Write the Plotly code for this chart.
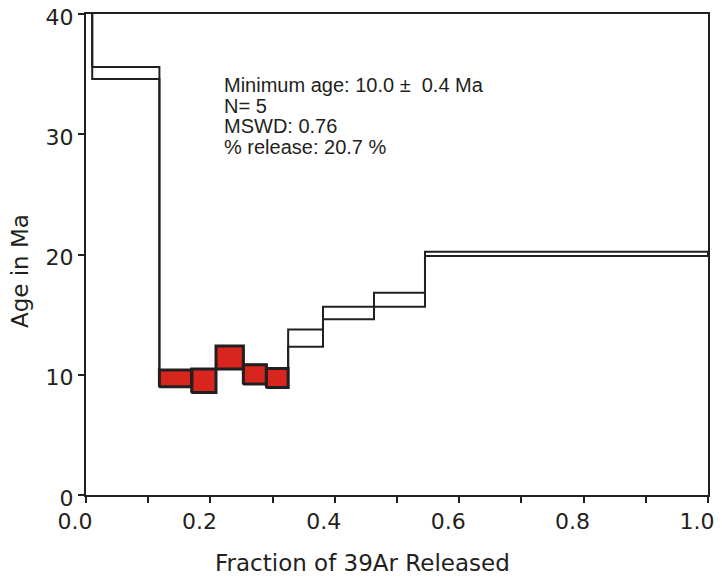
import numpy as np
import plotly.graph_objects as go

# ---- data ----
frac_bounds = [0.0, 0.010, 0.118, 0.170, 0.209, 0.253, 0.290, 0.325, 0.381, 0.463, 0.545, 1.0]
ages = [48.0, 35.1, 9.70, 9.50, 11.43, 10.03, 9.73, 13.05, 15.13, 16.23, 20.05]
errors = [2.0, 0.50, 0.70, 0.97, 0.96, 0.80, 0.80, 0.72, 0.52, 0.58, 0.17]
plateau = [False, False, True, True, True, True, True, False, False, False, False]

x_ticks = [0.0, 0.2, 0.4, 0.6, 0.8, 1.0]
x_tick_text = ["0.0", "0.2", "0.4", "0.6", "0.8", "1.0"]
y_ticks = [0, 10, 20, 30, 40]
y_tick_text = ["0", "10", "20", "30", "40"]

info_lines = ["Minimum age: 10.0 \u00b1  0.4 Ma", "N= 5", "MSWD: 0.76", "% release: 20.7 %"]

INK = "#231f20"
RED = "#d8261f"

b = np.array(frac_bounds)
a = np.array(ages)
e = np.array(errors)
hi = a + e
lo = a - e

# step envelopes
xs = np.repeat(b, 2)[1:-1]
up_y = np.repeat(hi, 2)
lo_y = np.repeat(lo, 2)

fig = go.Figure()
fig.add_trace(go.Scatter(x=list(xs) + [b[-1]], y=list(up_y) + [lo[-1]], mode="lines",
                         line=dict(color=INK, width=2), hoverinfo="skip", showlegend=False))
fig.add_trace(go.Scatter(x=xs, y=lo_y, mode="lines",
                         line=dict(color=INK, width=2), hoverinfo="skip", showlegend=False))

# plateau boxes
px, py = [], []
for i, flag in enumerate(plateau):
    if flag:
        px += [b[i], b[i + 1], b[i + 1], b[i], b[i], None]
        py += [lo[i], lo[i], hi[i], hi[i], lo[i], None]
fig.add_trace(go.Scatter(x=px, y=py, mode="lines", fill="toself", fillcolor=RED,
                         line=dict(color=INK, width=3), hoverinfo="skip", showlegend=False))

annotations = []
line_y = [0.852, 0.809, 0.767, 0.7235]
for txt, yy in zip(info_lines, line_y):
    annotations.append(dict(text=txt, xref="paper", yref="paper", x=0.2187, y=yy,
                            xanchor="left", yanchor="middle", showarrow=False,
                            font=dict(family="Liberation Sans", size=20, color=INK)))
annotations.append(dict(text="Fraction of 39Ar Released", xref="paper", yref="paper",
                        x=0.445, y=-0.141, xanchor="center", yanchor="middle", showarrow=False,
                        font=dict(family="DejaVu Sans", size=23, color=INK)))
annotations.append(dict(text="Age in Ma", xref="paper", yref="paper", textangle=-90,
                        x=-0.106, y=0.4657, xanchor="center", yanchor="middle", showarrow=False,
                        font=dict(family="DejaVu Sans", size=23, color=INK)))

# the page body adds an 8px offset, so the figure is sized to fit the window
fig.update_layout(
    width=714, height=570,
    margin=dict(l=78, r=14, t=6, b=83, autoexpand=False),
    paper_bgcolor="white", plot_bgcolor="white",
    annotations=annotations,
    xaxis=dict(range=[0, 1], tickvals=x_ticks, ticktext=x_tick_text, ticks="outside",
               ticklen=6, tickwidth=2, tickcolor=INK, showline=True, linewidth=2,
               linecolor=INK, mirror=True, showgrid=False, zeroline=False, automargin=False,
               tickfont=dict(family="DejaVu Sans", size=22, color=INK),
               ticklabelshift=-11, ticklabeloverflow="allow",
               minor=dict(dtick=0.1, tick0=0, ticks="outside", ticklen=6, tickwidth=2,
                          tickcolor=INK, showgrid=False)),
    yaxis=dict(range=[0, 40], tickvals=y_ticks, ticktext=y_tick_text, ticks="outside",
               ticklen=6, tickwidth=2, tickcolor=INK, showline=True, linewidth=2,
               linecolor=INK, mirror=True, showgrid=False, zeroline=False, automargin=False,
               ticklabeloverflow="allow", ticklabelshift=3,
               tickfont=dict(family="DejaVu Sans", size=22, color=INK)),
)

fig.write_html("out.html")
